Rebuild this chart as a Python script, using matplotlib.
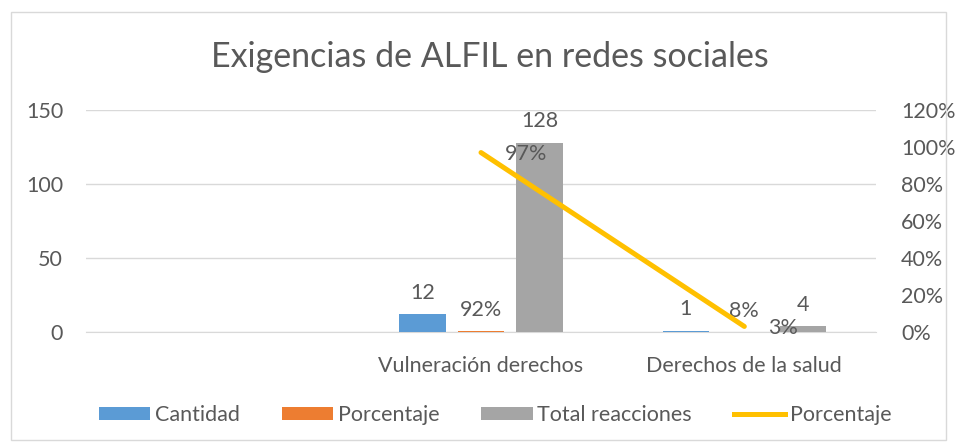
import numpy as np
import matplotlib
matplotlib.use("Agg")
import matplotlib.pyplot as plt
from matplotlib.patches import Rectangle
from matplotlib.lines import Line2D
from matplotlib.ticker import FuncFormatter

plt.rcParams['font.family'] = ['Lato', 'DejaVu Sans']

categories = ["", "Vulneración derechos", "Derechos de la salud"]
cantidad = [np.nan, 12, 1]
porcentaje_bar = [np.nan, 0.92, 0.08]
total_reacciones = [np.nan, 128, 4]
porcentaje_line = [np.nan, 0.97, 0.03]
left_ticks = [0, 50, 100, 150]
right_ticks = [0, 0.2, 0.4, 0.6, 0.8, 1.0, 1.2]

C_BLUE = "#5B9BD5"
C_ORANGE = "#ED7D31"
C_GRAY = "#A5A5A5"
C_YELLOW = "#FFC000"
C_TEXT = "#595959"
C_GRID = "#D9D9D9"

fig = plt.figure(figsize=(9.57, 4.46), dpi=100)
fig.patches.append(Rectangle((0.011, 0.013), 0.978, 0.96, transform=fig.transFigure,
                             fill=False, edgecolor=C_GRID, linewidth=1.0))
ax = fig.add_axes([86/957, 1-332/446, (876-86)/957, (332-110)/446])
ax2 = ax.twinx()

x = np.arange(len(categories))
w = 0.175
step = 0.222
fs = 15.5

b1 = ax.bar(x - step, cantidad, w, color=C_BLUE, label="Cantidad", zorder=3)
b2 = ax.bar(x, porcentaje_bar, w, color=C_ORANGE, label="Porcentaje", zorder=3)
b3 = ax.bar(x + step, total_reacciones, w, color=C_GRAY, label="Total reacciones", zorder=3)

ax.set_xlim(-0.5, len(categories) - 0.5)
ax.set_ylim(0, 150)
ax.set_yticks(left_ticks)
ax.yaxis.grid(True, color=C_GRID, linewidth=1)
ax.set_axisbelow(True)
ax.set_xticks(x)
ax.set_xticklabels(categories)
ax.tick_params(axis='x', length=0, pad=17, labelsize=fs, labelcolor=C_TEXT)
ax.tick_params(axis='y', length=0, pad=16.5, labelsize=fs, labelcolor=C_TEXT)
for s in ax.spines.values():
    s.set_visible(False)
ax.spines['bottom'].set_visible(True)
ax.spines['bottom'].set_color(C_GRID)

for xi, v in zip(x - step, cantidad):
    if not np.isnan(v):
        ax.annotate(f"{v:g}", (xi, v), xytext=(0, 8), textcoords='offset points',
                    ha='center', va='bottom', fontsize=fs, color=C_TEXT)
for xi, v in zip(x, porcentaje_bar):
    if not np.isnan(v):
        ax.annotate(f"{v*100:.0f}%", (xi, v), xytext=(0, 8), textcoords='offset points',
                    ha='center', va='bottom', fontsize=fs, color=C_TEXT)
for xi, v in zip(x + step, total_reacciones):
    if not np.isnan(v):
        ax.annotate(f"{v:g}", (xi, v), xytext=(0, 8), textcoords='offset points',
                    ha='center', va='bottom', fontsize=fs, color=C_TEXT)

ax2.plot(x, porcentaje_line, color=C_YELLOW, linewidth=3.6, solid_capstyle='round', zorder=4)
ax2.set_ylim(0, 1.2)
ax2.set_yticks(right_ticks)
ax2.yaxis.set_major_formatter(FuncFormatter(lambda v, p: f"{v*100:.0f}%"))
ax2.tick_params(axis='y', length=0, pad=18, labelsize=fs, labelcolor=C_TEXT)
for s in ax2.spines.values():
    s.set_visible(False)
for xi, v in zip(x, porcentaje_line):
    if not np.isnan(v):
        ax2.annotate(f"{v*100:.0f}%", (xi, v), xytext=(17, -1), textcoords='offset points',
                     ha='left', va='center', fontsize=fs, color=C_TEXT, zorder=5)

fig.text(490/957, 1-57/446, "Exigencias de ALFIL en redes sociales", ha='center', va='center',
         fontsize=24.5, color=C_TEXT)

handles = [b1, b2, b3, Line2D([0], [0], color=C_YELLOW, linewidth=3.6)]
labels = ["Cantidad", "Porcentaje", "Total reacciones", "Porcentaje"]
fig.legend(handles, labels, loc='center', bbox_to_anchor=(495/957, 1-415/446), ncol=4,
           frameon=False, fontsize=fs, labelcolor=C_TEXT, handlelength=2.4,
           handleheight=0.6, handletextpad=0.2, columnspacing=1.95)

fig.savefig("out.png", dpi=100)
